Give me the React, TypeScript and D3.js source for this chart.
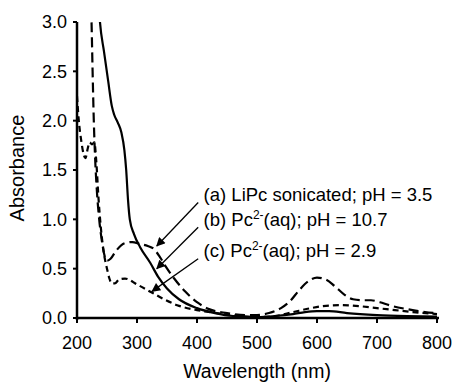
import React from "react";
import * as d3 from "d3";

// Wavelength (nm) / absorbance pairs
const waveA = [222, 224, 226, 228, 230, 233, 237, 241, 246, 250, 256, 265, 280, 292, 305, 318, 328, 338, 348, 362, 380, 400, 420, 450, 480, 500, 520, 540, 555, 570, 585, 600, 615, 630, 645, 660, 675, 690, 705, 720, 750, 780, 800];
const absA = [3.3, 3.05, 2.5, 2.0, 1.65, 1.3, 1.0, 0.8, 0.63, 0.58, 0.6, 0.68, 0.76, 0.77, 0.75, 0.73, 0.7, 0.62, 0.52, 0.4, 0.27, 0.16, 0.09, 0.05, 0.03, 0.03, 0.05, 0.1, 0.17, 0.28, 0.37, 0.41, 0.39, 0.32, 0.24, 0.19, 0.18, 0.18, 0.16, 0.13, 0.09, 0.06, 0.05];

const waveB = [236, 238, 245, 252, 258, 262, 268, 274, 279, 282, 285, 288, 295, 305, 322, 335, 350, 370, 400, 430, 460, 500, 530, 560, 580, 600, 620, 650, 700, 750, 800];
const absB = [3.2, 3.02, 2.7, 2.4, 2.15, 2.06, 1.98, 1.88, 1.7, 1.5, 1.2, 1.0, 0.85, 0.72, 0.56, 0.42, 0.3, 0.19, 0.1, 0.05, 0.02, 0.01, 0.02, 0.04, 0.06, 0.07, 0.07, 0.05, 0.03, 0.02, 0.015];

const waveC = [200, 203, 207, 211, 214, 218, 221, 225, 229, 232, 236, 240, 245, 250, 254, 258, 263, 270, 280, 300, 327, 345, 367, 400, 433, 470, 500, 530, 560, 590, 610, 640, 670, 700, 730, 760, 800];
const absC = [2.25, 2.0, 1.8, 1.66, 1.62, 1.72, 1.78, 1.76, 1.78, 1.6, 1.2, 0.9, 0.65, 0.5, 0.4, 0.35, 0.35, 0.39, 0.4, 0.34, 0.25, 0.19, 0.13, 0.08, 0.05, 0.02, 0.01, 0.02, 0.06, 0.1, 0.12, 0.13, 0.12, 0.1, 0.08, 0.06, 0.04];

const xTicks = [200, 300, 400, 500, 600, 700, 800];
const yTicks = [0, 0.5, 1.0, 1.5, 2.0, 2.5, 3.0];

// legend labels with arrow tip / tail (data coordinates)
const labelPre = ["(a) LiPc sonicated; pH = 3.5", "(b) Pc", "(c) Pc"];
const labelSup = ["", "2-", "2-"];
const labelPost = ["", "(aq); pH = 10.7", "(aq); pH = 2.9"];
const labelAbs = [1.19, 0.935, 0.62];
const tipWave = [333, 333, 325];
const tipAbs = [0.73, 0.5, 0.27];
const tailWave = [402, 402, 402];
const tailAbs = [1.17, 0.92, 0.6];

export default function App() {
  const W = 453, H = 384;
  const x = d3.scaleLinear().domain([200, 800]).range([77, 437]);
  const y = d3.scaleLinear().domain([0, 3]).range([318, 22]);
  const line = d3
    .line<[number, number]>()
    .x((d) => x(d[0]))
    .y((d) => y(d[1]))
    .curve(d3.curveMonotoneX);
  const series = [
    { w: waveA, a: absA, dash: "10,5" },
    { w: waveB, a: absB, dash: "none" },
    { w: waveC, a: absC, dash: "6,4" },
  ];
  const font = "Arial, 'Liberation Sans', sans-serif";
  return (
    <svg width={W} height={H} style={{ position: "absolute", left: 0, top: 0, background: "#fff" }} fontFamily={font}>
      <defs>
        <clipPath id="plot">
          <rect x={77} y={y(3)} width={362} height={y(0) - y(3) + 4} />
        </clipPath>
        <marker id="arr" viewBox="0 0 10 10" refX="9" refY="5" markerWidth="11" markerHeight="9" orient="auto" markerUnits="userSpaceOnUse">
          <path d="M0,0 L10,5 L0,10 z" fill="#000" />
        </marker>
      </defs>
      <g clipPath="url(#plot)">
        {series.map((s, i) => (
          <path
            key={i}
            d={line(s.w.map((v, j) => [v, s.a[j]] as [number, number])) || ""}
            fill="none"
            stroke="#000"
            strokeWidth={2.2}
            strokeDasharray={s.dash}
          />
        ))}
      </g>
      {/* axes */}
      <line x1={x(200)} x2={x(200)} y1={y(3)} y2={y(0) + 2} stroke="#000" strokeWidth={2.5} />
      <line x1={x(200) - 1} x2={x(800) + 2} y1={y(0)} y2={y(0)} stroke="#000" strokeWidth={2.5} />
      {yTicks.map((t) => (
        <g key={t}>
          <line x1={x(200) - 4} x2={x(200)} y1={y(t)} y2={y(t)} stroke="#000" strokeWidth={2} />
          <text x={67} y={y(t)} dy="0.35em" textAnchor="end" fontSize={18}>
            {t.toFixed(1)}
          </text>
        </g>
      ))}
      {xTicks.map((t) => (
        <g key={t}>
          <line x1={x(t)} x2={x(t)} y1={y(0)} y2={y(0) + 5} stroke="#000" strokeWidth={2} />
          <text x={x(t)} y={349} textAnchor="middle" fontSize={18}>
            {t}
          </text>
        </g>
      ))}
      <text x={(x(200) + x(800)) / 2} y={378} textAnchor="middle" fontSize={19.5}>
        Wavelength (nm)
      </text>
      <text transform={`translate(24,${(y(0) + y(3)) / 2 - 2}) rotate(-90)`} textAnchor="middle" fontSize={20}>
        Absorbance
      </text>
      {labelPre.map((p, i) => (
        <g key={i}>
          <line
            x1={x(tailWave[i])}
            y1={y(tailAbs[i])}
            x2={x(tipWave[i])}
            y2={y(tipAbs[i])}
            stroke="#000"
            strokeWidth={1.3}
            markerEnd="url(#arr)"
          />
          <text x={x(411)} y={y(labelAbs[i])} fontSize={18.5}>
            {p}
            {labelSup[i] && (
              <tspan fontSize={12} dy={-7}>
                {labelSup[i]}
              </tspan>
            )}
            {labelPost[i] && <tspan dy={labelSup[i] ? 7 : 0}>{labelPost[i]}</tspan>}
          </text>
        </g>
      ))}
    </svg>
  );
}
